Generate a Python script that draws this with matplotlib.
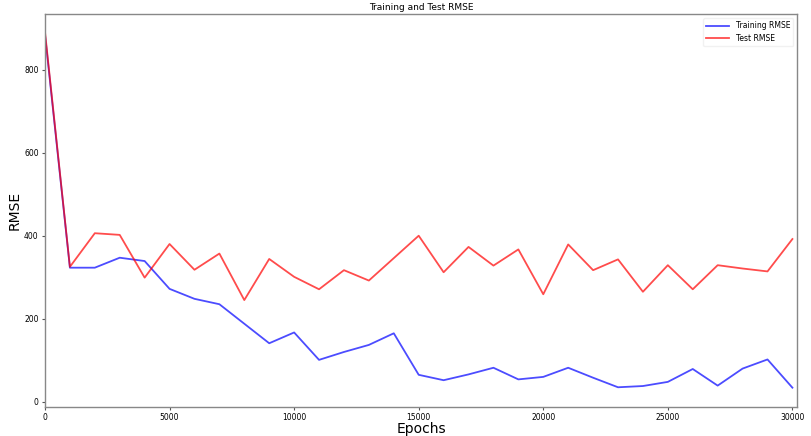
"""
Training and test RMSE over epochs.
"""

import matplotlib
matplotlib.use("Agg")
import matplotlib.pyplot as plt

# ---------------------------------------------------------------------
# Data (one point every 1000 epochs)
# ---------------------------------------------------------------------

EPOCHS = list(range(0, 30001, 1000))

TRAIN_RMSE = [
    885, 323, 323, 347, 339, 272, 248, 235, 188, 141,
    167, 101, 120, 137, 165, 65, 52, 66, 82, 54,
    60, 82, 58, 35, 38, 48, 79, 39, 80, 102, 34,
]

TEST_RMSE = [
    891, 325, 406, 402, 299, 380, 318, 357, 245, 344,
    301, 271, 317, 292, 346, 400, 312, 373, 328, 367,
    259, 379, 317, 343, 265, 329, 271, 329, 321, 314, 392,
]

X_TICKS = [0, 5000, 10000, 15000, 20000, 25000, 30000]
Y_TICKS = [0, 200, 400, 600, 800]


def plot_results() -> None:
    fig = plt.figure(figsize=(8.12, 4.36), dpi=100)
    ax = fig.add_axes([0.0554, 0.067, 0.926, 0.900])

    ax.plot(EPOCHS, TRAIN_RMSE, color="blue", alpha=0.7, linewidth=1.3,
            label="Training RMSE")
    ax.plot(EPOCHS, TEST_RMSE, color="red", alpha=0.7, linewidth=1.3,
            label="Test RMSE")

    ax.set_title("Training and Test RMSE", fontsize=6.5, pad=3)
    ax.set_xlabel("Epochs", fontsize=10, labelpad=0)
    ax.set_ylabel("RMSE", fontsize=10, labelpad=2)

    ax.set_xticks(X_TICKS)
    ax.set_yticks(Y_TICKS)
    ax.tick_params(labelsize=5.5, length=2.5, pad=2, color="#555555")
    ax.set_xlim(0, 30180)
    ax.set_ylim(-12, 933)

    for spine in ax.spines.values():
        spine.set_color("#888888")
        spine.set_linewidth(1.0)

    ax.legend(loc="upper right", fontsize=5.5, frameon=True,
              edgecolor="#eeeeee", handlelength=3)

    fig.savefig("out.png", dpi=100)


def main() -> None:
    plot_results()


if __name__ == "__main__":
    main()
